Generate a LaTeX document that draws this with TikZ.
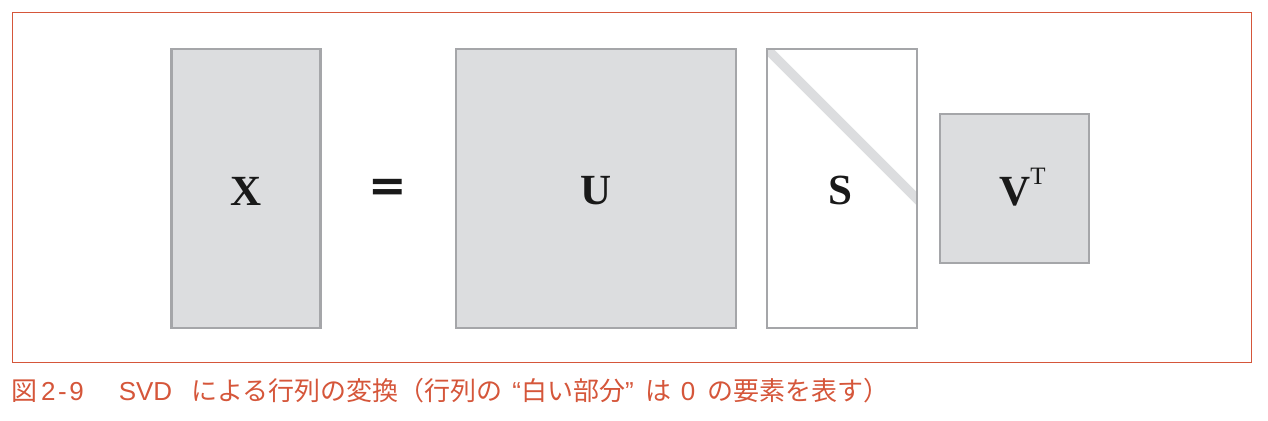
\documentclass[tikz,border=0pt]{standalone}
\usepackage{fontspec}
\setmainfont{Liberation Serif}
\newfontfamily\cjk{Noto Sans CJK JP}
\newfontfamily\lsans{Liberation Sans}
\newfontfamily\djv{DejaVu Sans}
\definecolor{boxfill}{HTML}{DCDDDF}
\definecolor{boxline}{HTML}{A5A6A9}
\definecolor{capred}{HTML}{D5563A}
\begin{document}
\begin{tikzpicture}[x=1pt,y=-1pt,
  mat/.style={draw=boxline,line width=2.6pt,fill=boxfill,rectangle,inner sep=0pt,outer sep=0pt},
  lab/.style={font=\fontsize{43}{43}\selectfont\bfseries,text=black!90,inner sep=0pt}]
\useasboundingbox (0,0) rectangle (1268,420);
\draw[capred,line width=0.9pt] (12,12) rectangle (1251,362);
% matrices
\node[mat,minimum width=149pt,minimum height=279pt] (X) at (246,188.5) {};
\node[mat,minimum width=280pt,minimum height=279pt] (U) at (596,188.5) {};
\node[mat,fill=white,draw=none,minimum width=150pt,minimum height=279pt] (S) at (842,188.5) {};
\begin{scope}
\clip (S.north west) rectangle (S.south east);
\draw[boxfill,line width=9.5pt] (S.north west) -- ++(170,170);
\end{scope}
\draw[boxline,line width=2.6pt] (S.north west) rectangle (S.south east);
\node[mat,minimum width=149pt,minimum height=149pt] (V) at (1014.5,188.5) {};
% labels
\node[lab,anchor=base] (xl) at (246,205) {X};
\node[font=\djv\bfseries\fontsize{46}{46}\selectfont,text=black!90,inner sep=0pt] (eq) at (388,190) {=};
\node[lab,anchor=base] (ul) at (596,204) {U};
\node[lab,anchor=base] (sl) at (840,204) {S};
\node[lab,anchor=base west] (vl) at (999,205) {V\raisebox{21pt}{\fontsize{25}{25}\selectfont\mdseries T}};
% caption
\node[anchor=base west,inner sep=0pt,text=capred,font=\cjk\fontsize{26}{26}\selectfont] (cap) at (11,400)
  {図\hspace{4pt}{\lsans 2\kern2.5pt-\kern2.5pt9}\hspace{35pt}{\lsans SVD}\hspace{19pt}による行列の変換（行列の\hspace{10pt}{\lsans “}白い部分{\lsans ”}\hspace{12pt}は\hspace{9pt}{\lsans 0}\hspace{12pt}の要素を表す）};
\end{tikzpicture}
\end{document}
